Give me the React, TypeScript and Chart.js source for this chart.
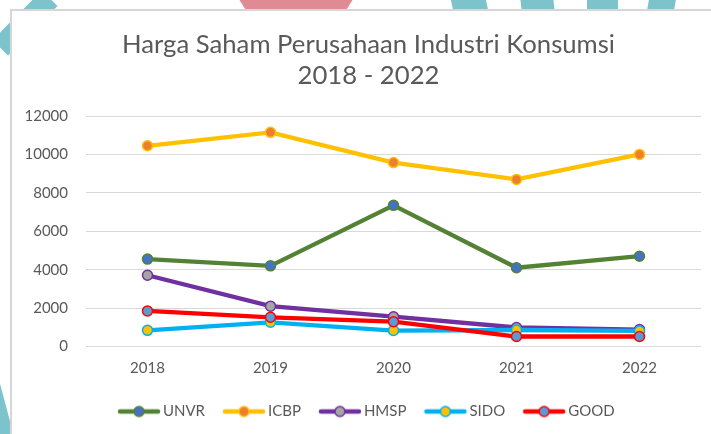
import React, { useEffect, useRef } from 'react';
import { Chart, registerables } from 'chart.js';

Chart.register(...registerables);

const years = ['2018', '2019', '2020', '2021', '2022'];
const seriesNames = ['UNVR', 'ICBP', 'HMSP', 'SIDO', 'GOOD'];
const unvr = [4550, 4200, 7350, 4100, 4700];
const icbp = [10450, 11150, 9575, 8700, 10000];
const hmsp = [3710, 2100, 1550, 990, 880];
const sido = [840, 1260, 830, 860, 810];
const good = [1850, 1520, 1290, 520, 520];
const titleLines = ['Harga Saham Perusahaan Industri Konsumsi', '2018 - 2022'];
const yMin = 0;
const yMax = 12000;
const yStep = 2000;

const lineColors = ['#548235', '#FFC000', '#7030A0', '#00B0F0', '#FF0000'];
const markerColors = ['#4472C4', '#ED7D31', '#A5A5A5', '#FFC000', '#5B9BD5'];
const FONT = 'Lato, "Open Sans", sans-serif';
const TEXT = '#595959';

function makeIcon(line: string, marker: string) {
  const c = document.createElement('canvas');
  c.width = 44;
  c.height = 14;
  const ctx = c.getContext('2d')!;
  ctx.strokeStyle = line;
  ctx.lineWidth = 4.5;
  ctx.lineCap = 'round';
  ctx.beginPath();
  ctx.moveTo(3, 7);
  ctx.lineTo(41, 7);
  ctx.stroke();
  ctx.beginPath();
  ctx.arc(22, 7, 5, 0, Math.PI * 2);
  ctx.fillStyle = marker;
  ctx.fill();
  ctx.lineWidth = 1.5;
  ctx.strokeStyle = line;
  ctx.stroke();
  return c;
}

export default function App() {
  const ref = useRef<HTMLCanvasElement>(null);
  useEffect(() => {
    const values = [unvr, icbp, hmsp, sido, good];
    const datasets = seriesNames.map((name, i) => ({
      label: name,
      data: values[i],
      borderColor: lineColors[i],
      backgroundColor: markerColors[i],
      borderWidth: 4.3,
      pointRadius: 5,
      pointBorderWidth: 1.5,
      pointBorderColor: lineColors[i],
      pointBackgroundColor: markerColors[i],
      tension: 0,
      order: seriesNames.length - 1 - i,
      yAxisID: 'y',
    }));
    const icons = seriesNames.map((_, i) => makeIcon(lineColors[i], markerColors[i]));
    const chart = new Chart(ref.current!, {
      type: 'line',
      data: { labels: years, datasets },
      options: {
        animation: false,
        responsive: false,
        devicePixelRatio: 1,
        layout: { padding: 0 },
        plugins: {
          tooltip: { enabled: false },
          title: {
            display: true,
            text: titleLines,
            color: TEXT,
            font: { family: FONT, size: 25.7, weight: 'normal', lineHeight: 31 / 25.7 },
            padding: { top: 18.5, bottom: 24.5 },
          },
          legend: {
            position: 'bottom',
            labels: {
              usePointStyle: true,
              pointStyleWidth: 33,
              padding: 22.5,
              color: TEXT,
              font: { family: FONT, size: 15 },
              generateLabels: (c: any) =>
                c.data.datasets.map((ds: any, i: number) => ({
                  text: ds.label,
                  fillStyle: markerColors[i],
                  strokeStyle: lineColors[i],
                  lineWidth: 0,
                  hidden: false,
                  datasetIndex: i,
                  pointStyle: icons[i],
                  fontColor: TEXT,
                })),
            },
          },
        },
        scales: {
          x: {
            offset: true,
            grid: { display: false, drawTicks: false },
            border: { display: false },
            ticks: { color: TEXT, font: { family: FONT, size: 15 }, padding: 13 },
            afterFit: (s: any) => {
              s.height = 35;
            },
          },
          y: {
            min: yMin,
            max: yMax,
            grid: { color: '#d9d9d9', lineWidth: 1, drawTicks: false },
            border: { display: false },
            ticks: {
              stepSize: yStep,
              color: TEXT,
              font: { family: FONT, size: 15 },
              padding: 18,
              callback: (v: any) => String(v),
            },
            afterFit: (s: any) => {
              s.width = 74;
            },
          },
          yRight: {
            position: 'right',
            min: yMin,
            max: yMax,
            grid: { display: false, drawTicks: false },
            border: { display: false },
            ticks: { display: false },
            afterFit: (s: any) => {
              s.width = 24;
            },
          },
        },
      },
    } as any);
    return () => chart.destroy();
  }, []);

  const teal = '#7cc3cb';
  return (
    <div style={{ position: 'fixed', left: 0, top: 0, width: 711, height: 434, overflow: 'hidden', background: '#fff' }}>
      <div style={{ position: 'absolute', left: 232, top: -94, width: 128, height: 128, borderRadius: '50%', background: '#e08a93' }} />
      <div style={{ position: 'absolute', left: 452, top: -2, width: 35, height: 14, background: teal, transform: 'skewX(12deg)' }} />
      <div style={{ position: 'absolute', left: 521, top: -2, width: 33, height: 14, background: teal, transform: 'skewX(6deg)' }} />
      <div style={{ position: 'absolute', left: 587, top: -2, width: 31, height: 14, background: teal }} />
      <div style={{ position: 'absolute', left: 648, top: -2, width: 27, height: 14, background: teal, transform: 'skewX(-10deg)' }} />
      <div style={{ position: 'absolute', left: -10, top: 12, width: 70, height: 22, background: teal, transform: 'rotate(-45deg)' }} />
      <div style={{ position: 'absolute', left: -14, top: 370, width: 22, height: 90, background: teal, transform: 'rotate(-15deg)' }} />
      <div style={{ position: 'absolute', left: 10, top: 9, width: 740, height: 460, border: '2px solid #d6d6d6', background: '#fff', boxSizing: 'border-box' }}>
        <canvas ref={ref} width={713} height={418} style={{ position: 'absolute', left: 0, top: 0, display: 'block', width: 713, height: 418 }} />
      </div>
    </div>
  );
}
